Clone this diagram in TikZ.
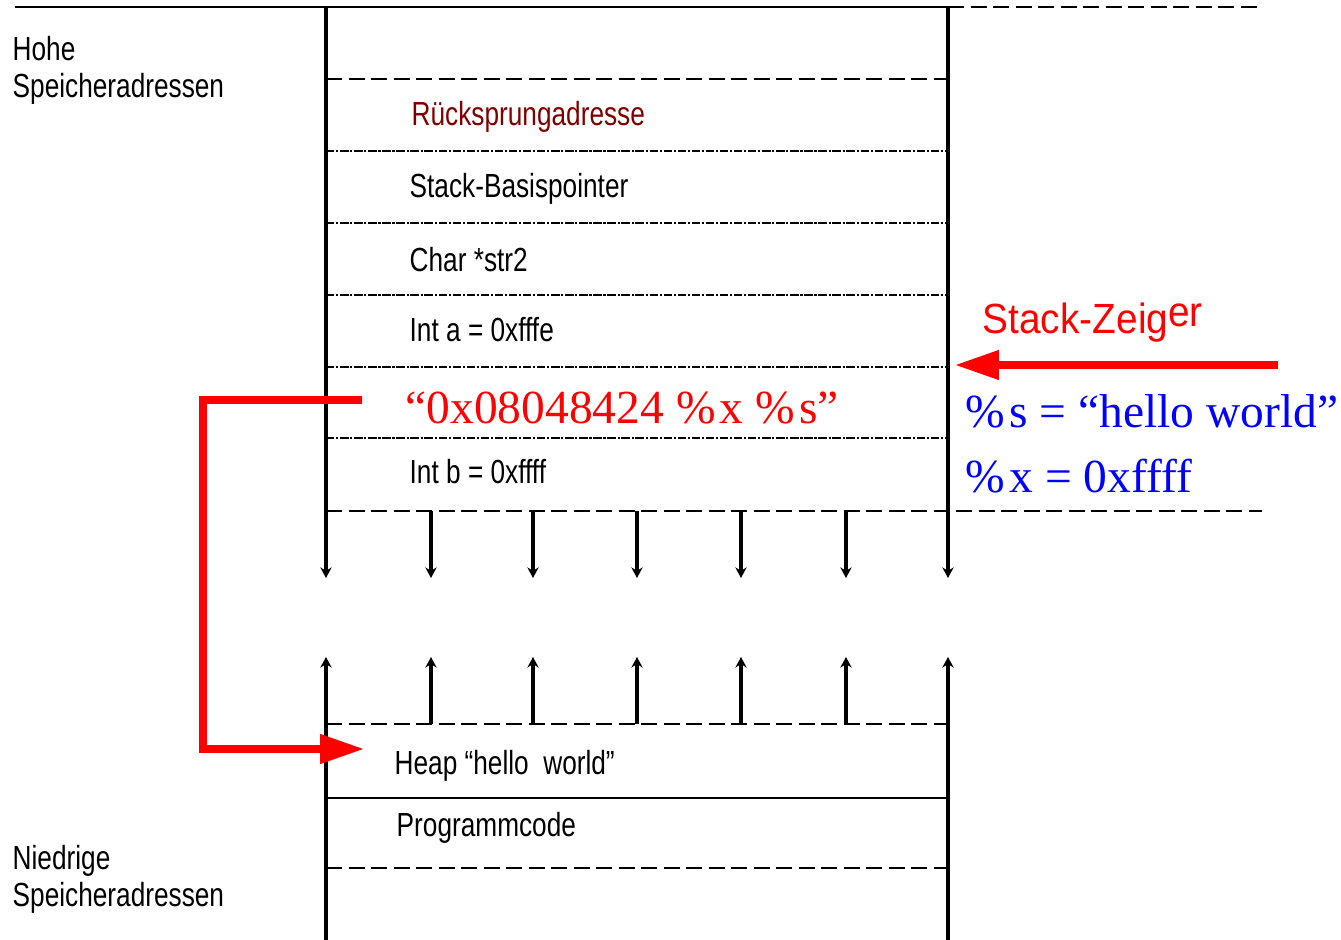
\documentclass[tikz,border=0pt]{standalone}
\usepackage{fontspec}
\setmainfont{Liberation Serif}
\newfontfamily\narrowsans[FakeStretch=0.785]{Liberation Sans}
\newfontfamily\zeigersans[FakeStretch=0.92]{Liberation Sans}
\usetikzlibrary{arrows.meta,positioning,calc}
\definecolor{cret}{RGB}{128,0,0}
\definecolor{cred}{RGB}{255,0,0}
\definecolor{cblue}{RGB}{0,0,255}
\newcommand{\lbl}{\narrowsans\fontsize{9.5}{10.5}\selectfont}
\newcommand{\fmt}{\fontsize{13.5}{15}\selectfont}
\newcommand{\pc}{\%\kern1.2pt}
\tikzset{
  wall/.style={line width=0.85pt},
  cellsep/.style={line width=0.6pt, dash pattern=on 2.4pt off 0.5pt on 0.6pt off 0.5pt},
  gapsep/.style={line width=0.75pt, dash pattern=on 4.6pt off 1.8pt},
  growarrow/.style={line width=0.9pt, -{Stealth[length=3pt,width=3.2pt]}},
  redarrow/.style={cred, line width=2pt, -{Triangle[length=12.5pt,width=8pt]}},
  cellbox/.style={anchor=west, inner sep=0pt, font=\lbl},
}

\begin{document}
\begin{tikzpicture}[x=0.01cm, y=-0.01cm]
    \useasboundingbox (0,0) rectangle (1341,940);
    % stack frame
    \draw[line width=0.7pt] (15,7) -- (948,7);
    \draw[gapsep] (948,7) -- (1262,7);
    \draw[gapsep] (326,79) -- (948,79);
    \foreach \y in {151,223,295,367,438}
      \draw[cellsep] (326,\y) -- (948,\y);
    \draw[gapsep] (326,511) -- (1262,511);
    \draw[gapsep] (326,724) -- (948,724);
    \draw[line width=0.7pt] (326,798) -- (948,798);
    \draw[gapsep] (326,868) -- (948,868);
    % walls and growth arrows
    \draw[wall, growarrow] (326,7) -- (326,578);
    \draw[wall, growarrow] (948,7) -- (948,578);
    \draw[wall, growarrow] (326,940) -- (326,657);
    \draw[wall, growarrow] (948,940) -- (948,657);
    \foreach \x in {431,533,637,741,846} {
      \draw[growarrow] (\x,511) -- (\x,578);
      \draw[growarrow] (\x,724) -- (\x,657);
    }
    % labels
    \node[cellbox, align=left] (hoch) at (12,70) {Hohe\\Speicheradressen};
    \node[cellbox, align=left] (nied) at (12,879) {Niedrige\\Speicheradressen};
    \node[cellbox, text=cret] (ret) at (411,117) {Rücksprungadresse};
    \node[cellbox] (ebp) at (409,189) {Stack-Basispointer};
    \node[cellbox] (str) at (409,260) {Char *str2};
    \node[cellbox] (inta) at (409,330) {Int a = 0xfffe};
    \node[anchor=west, inner sep=0pt, text=cred, font=\fmt] (fmtstr) at (405,408) {“0x08048424 \pc x \pc s”};
    \node[cellbox] (intb) at (409,472) {Int b = 0xffff};
    \node[cellbox] (heap) at (394,766) {Heap “hello\ \ world”};
    \node[cellbox] (code) at (396,828) {Programmcode};
    % stack pointer
    \node[anchor=west, inner sep=0pt, text=cred, font=\zeigersans\fontsize{12}{14}\selectfont] (zeiger) at (982,323) {Stack-Zeig\raisebox{2pt}{er}};
    \node[anchor=west, inner sep=0pt, text=cblue, font=\fmt] (vals) at (965,411) {\pc s = “hello world”};
    \node[anchor=west, inner sep=0pt, text=cblue, font=\fmt] (valx) at (965,476) {\pc x = 0xffff};
    \coordinate (spfrom) at (1278,365);
    \coordinate (spto) at (955,365);
    \draw[redarrow] (spfrom) -- (spto);
    % pointer into heap
    \coordinate (pfrom) at (362,400);
    \coordinate (pto) at (364,749);
    \draw[redarrow, line join=miter] (pfrom) -- (203,400) -- (203,749) -- (pto);
\end{tikzpicture}
\end{document}
